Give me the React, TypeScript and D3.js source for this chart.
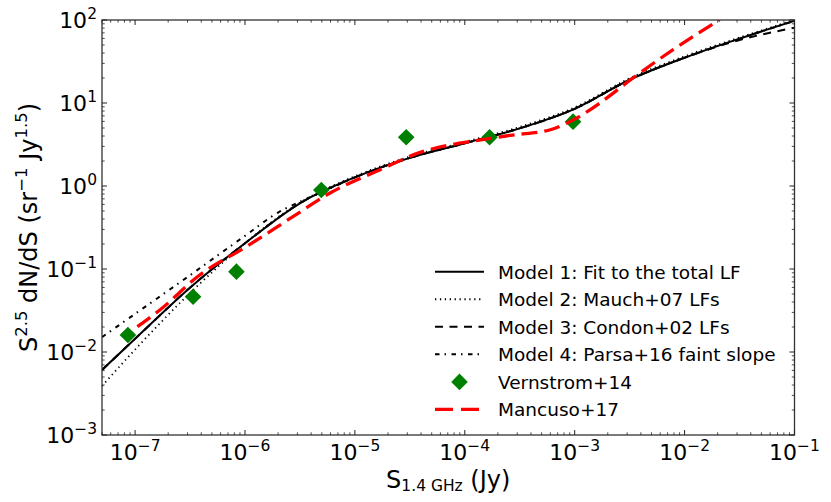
import * as d3 from 'd3';

// flux density S (Jy) and Euclidean-normalised counts S^2.5 dN/dS
const model1S = [5e-8, 1e-7, 3.16e-7, 1e-6, 3.16e-6, 1e-5, 3.16e-5, 1e-4, 3.16e-4, 1e-3, 3.16e-3, 1e-2, 3.16e-2, 1e-1];
const model1N = [0.00607, 0.01445, 0.0596, 0.204, 0.619, 1.27, 2.18, 3.27, 4.95, 8.51, 19.05, 35.1, 59.6, 97.7];

const model2S = [5e-8, 1e-7, 3.16e-7, 6.3e-7, 1e-6, 3.16e-6, 1e-5, 3.16e-5, 1e-4, 3.16e-4, 1e-3, 3.16e-3, 1e-2, 3.16e-2, 1e-1];
const model2N = [0.00389, 0.0107, 0.0513, 0.12, 0.204, 0.63, 1.31, 2.26, 3.39, 5.15, 8.85, 19.8, 36.5, 61.5, 100];

const model3S = [5e-8, 1e-7, 3.16e-7, 1e-6, 3.16e-6, 1e-5, 3.16e-5, 1e-4, 3.16e-4, 1e-3, 3.16e-3, 1e-2, 3.16e-2, 1e-1];
const model3N = [0.00607, 0.01445, 0.0596, 0.204, 0.619, 1.27, 2.18, 3.27, 4.95, 8.51, 19.05, 35.1, 57.4, 80.7];

const model4S = [5e-8, 1e-7, 3.16e-7, 1e-6, 2e-6, 3.16e-6, 5e-6, 1e-5, 3.16e-5, 1e-4, 3.16e-4, 1e-3, 3.16e-3, 1e-2, 3.16e-2, 1e-1];
const model4N = [0.0151, 0.0288, 0.0841, 0.251, 0.479, 0.646, 0.841, 1.27, 2.18, 3.27, 4.95, 8.51, 19.05, 35.1, 59.6, 97.7];

const vernstromS = [8.6e-8, 3.37e-7, 8.36e-7, 4.95e-6, 2.93e-5, 1.68e-4, 9.66e-4];
const vernstromN = [0.016, 0.0464, 0.0929, 0.895, 3.86, 3.86, 5.96];

const mancusoS = [1.05e-7, 1.68e-7, 3.87e-7, 1.03e-6, 2.73e-6, 5.89e-6, 1.68e-5, 3.87e-5, 1.36e-4, 2.72e-4, 5.89e-4, 1.03e-3, 1.68e-3, 3.37e-3, 7.8e-3, 2.07e-2];
const mancusoN = [0.0202, 0.0321, 0.0847, 0.186, 0.427, 0.817, 1.56, 2.52, 3.58, 4.11, 4.73, 6.53, 9.91, 19.9, 43.6, 100];

const xTickExps = [-7, -6, -5, -4, -3, -2, -1];
const yTickExps = [-3, -2, -1, 0, 1, 2];

const legendLabels = [
  'Model 1: Fit to the total LF',
  'Model 2: Mauch+07 LFs',
  'Model 3: Condon+02 LFs',
  'Model 4: Parsa+16 faint slope',
  'Vernstrom+14',
  'Mancuso+17',
];

const W = 831;
const H = 502;
const left = 102;
const right = 794.5;
const top = 20;
const bottom = 435;
const font = '"DejaVu Sans", sans-serif';

const x = d3.scaleLog().domain([5e-8, 1e-1]).range([left, right]);
const y = d3.scaleLog().domain([1e-3, 1e2]).range([bottom, top]);

const line = d3
  .line<[number, number]>()
  .x(d => x(d[0]))
  .y(d => y(d[1]))
  .curve(d3.curveMonotoneX);

const zip = (s: number[], n: number[]) => s.map((v, i) => [v, n[i]] as [number, number]);

const styles = [
  { dash: undefined, width: 2, color: '#000' },
  { dash: '1.3,3.6', width: 1.8, color: '#000' },
  { dash: '8,6.5', width: 2, color: '#000' },
  { dash: '4.5,5,1.5,5.5', width: 2, color: '#000' },
];

const series = [
  zip(model1S, model1N),
  zip(model2S, model2N),
  zip(model3S, model3N),
  zip(model4S, model4N),
];

function minorTicks(domain: [number, number]) {
  const out: number[] = [];
  const lo = Math.floor(Math.log10(domain[0]));
  const hi = Math.ceil(Math.log10(domain[1]));
  for (let e = lo; e < hi; e++) {
    for (let m = 2; m <= 9; m++) {
      const v = m * Math.pow(10, e);
      if (v >= domain[0] && v <= domain[1]) out.push(v);
    }
  }
  return out;
}

function Diamond({ cx, cy, r }: { cx: number; cy: number; r: number }) {
  return <path d={`M${cx},${cy - r}L${cx + r},${cy}L${cx},${cy + r}L${cx - r},${cy}Z`} fill="#008000" />;
}

export default function App() {
  const xMinor = minorTicks([5e-8, 1e-1]);
  const yMinor = minorTicks([1e-3, 1e2]);
  const tickColor = '#222';
  const major = 5;
  const minor = 2.7;

  const legendX0 = 435;
  const legendX1 = 484;
  const legendTextX = 498;
  const rowY = (i: number) => 271.7 + i * 27.55;

  return (
    <svg width={W} height={H} style={{ position: 'absolute', left: 0, top: 0 }} fontFamily={font}>
      <rect width={W} height={H} fill="#fff" />
      <defs>
        <clipPath id="plot">
          <rect x={left} y={top} width={right - left} height={bottom - top} />
        </clipPath>
      </defs>

      <g clipPath="url(#plot)">
        {series.map((s, i) => (
          <path
            key={i}
            d={line(s) || ''}
            fill="none"
            stroke={styles[i].color}
            strokeWidth={styles[i].width}
            strokeDasharray={styles[i].dash}
          />
        ))}
        {vernstromS.map((s, i) => (
          <Diamond key={i} cx={x(s)} cy={y(vernstromN[i])} r={8.3} />
        ))}
        <path
          d={line(zip(mancusoS, mancusoN)) || ''}
          fill="none"
          stroke="#ff0000"
          strokeWidth={3.3}
          strokeDasharray="16,7"
        />
      </g>

      {/* frame */}
      <rect x={left} y={top} width={right - left} height={bottom - top} fill="none" stroke="#333" strokeWidth={1.3} />

      {/* x ticks, bottom and top, pointing in */}
      {xTickExps.map(e => {
        const px = x(Math.pow(10, e));
        return (
          <g key={'xm' + e} stroke={tickColor} strokeWidth={1}>
            <line x1={px} x2={px} y1={bottom} y2={bottom - major} />
            <line x1={px} x2={px} y1={top} y2={top + major} />
          </g>
        );
      })}
      {xMinor.map((v, i) => {
        const px = x(v);
        return (
          <g key={'xn' + i} stroke={tickColor} strokeWidth={0.8}>
            <line x1={px} x2={px} y1={bottom} y2={bottom - minor} />
            <line x1={px} x2={px} y1={top} y2={top + minor} />
          </g>
        );
      })}
      {yTickExps.map(e => {
        const py = y(Math.pow(10, e));
        return (
          <g key={'ym' + e} stroke={tickColor} strokeWidth={1}>
            <line x1={left} x2={left + major} y1={py} y2={py} />
            <line x1={right} x2={right - major} y1={py} y2={py} />
          </g>
        );
      })}
      {yMinor.map((v, i) => {
        const py = y(v);
        return (
          <g key={'yn' + i} stroke={tickColor} strokeWidth={0.8}>
            <line x1={left} x2={left + minor} y1={py} y2={py} />
            <line x1={right} x2={right - minor} y1={py} y2={py} />
          </g>
        );
      })}

      {/* tick labels */}
      {xTickExps.map(e => (
        <text key={'xl' + e} x={x(Math.pow(10, e))} y={460} textAnchor="middle" fontSize={22} fill="#000">
          <tspan>10</tspan>
          <tspan fontSize={15.5} dy={-9.5}>{e < 0 ? '\u2212' + -e : String(e)}</tspan>
        </text>
      ))}
      {yTickExps.map(e => (
        <text key={'yl' + e} x={97} y={y(Math.pow(10, e)) + 8.2} textAnchor="end" fontSize={22} fill="#000">
          <tspan>10</tspan>
          <tspan fontSize={15.5} dy={-9.5}>{e < 0 ? '\u2212' + -e : String(e)}</tspan>
        </text>
      ))}

      {/* axis labels */}
      <text x={(left + right) / 2} y={488} textAnchor="middle" fontSize={24} fill="#000">
        <tspan>S</tspan>
        <tspan fontSize={15.5} dy={3}>1.4 GHz</tspan>
        <tspan dy={-3}> (Jy)</tspan>
      </text>
      <text
        transform={`translate(37,${(top + bottom) / 2}) rotate(-90)`}
        textAnchor="middle"
        fontSize={24}
        fill="#000"
      >
        <tspan>S</tspan>
        <tspan fontSize={16.5} dy={-10}>2.5</tspan>
        <tspan dy={10}> dN/dS (sr</tspan>
        <tspan fontSize={16.5} dy={-10}>{'\u22121'}</tspan>
        <tspan dy={10}> Jy</tspan>
        <tspan fontSize={16.5} dy={-10}>1.5</tspan>
        <tspan dy={10}>)</tspan>
      </text>

      {/* legend */}
      {legendLabels.map((label, i) => {
        const cy = rowY(i);
        let handle;
        if (i < 4) {
          handle = (
            <line
              x1={legendX0}
              x2={legendX1}
              y1={cy}
              y2={cy}
              stroke="#000"
              strokeWidth={styles[i].width}
              strokeDasharray={styles[i].dash}
            />
          );
        } else if (i === 4) {
          handle = <Diamond cx={(legendX0 + legendX1) / 2} cy={cy} r={8.3} />;
        } else {
          handle = (
            <line x1={legendX0} x2={legendX1} y1={cy} y2={cy} stroke="#ff0000" strokeWidth={3.3} strokeDasharray="18,8" />
          );
        }
        return (
          <g key={label}>
            {handle}
            <text x={legendTextX} y={cy + 6.8} fontSize={18.5} fill="#000">
              {label}
            </text>
          </g>
        );
      })}
    </svg>
  );
}
